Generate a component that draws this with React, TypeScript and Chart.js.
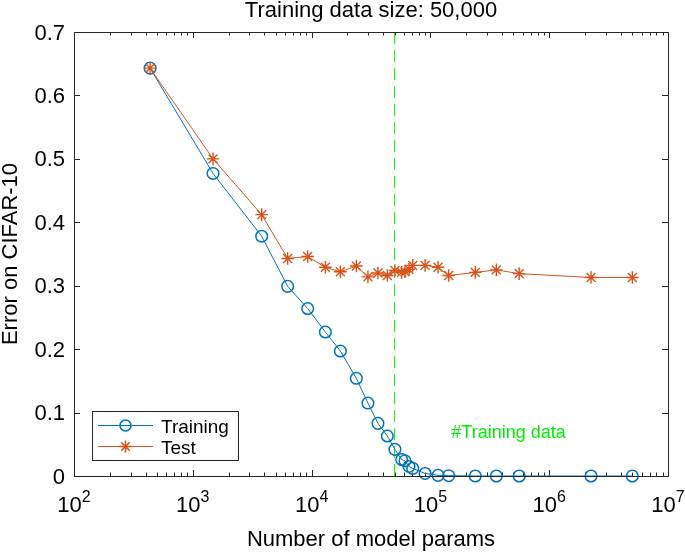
import React, { useEffect, useRef } from 'react';
import { Chart, registerables } from 'chart.js';

Chart.register(...registerables);

// ---- data ----
const modelParams = [437, 1480, 3800, 6290, 9270, 13060, 17460, 23800, 29800, 36200, 43400, 50300, 57300, 61100, 66100, 71000, 90200, 116000, 142600, 238700, 359000, 559000, 2250000, 5010000];
const trainingError = [0.643, 0.477, 0.378, 0.299, 0.264, 0.227, 0.197, 0.154, 0.115, 0.083, 0.063, 0.042, 0.026, 0.024, 0.015, 0.012, 0.004, 0.001, 0.0005, 0, 0, 0, 0, 0];
const testError = [0.643, 0.5, 0.412, 0.343, 0.346, 0.329, 0.322, 0.331, 0.314, 0.32, 0.316, 0.324, 0.321, 0.322, 0.326, 0.332, 0.332, 0.329, 0.316, 0.321, 0.325, 0.319, 0.313, 0.313];
const trainingDataSize = 50000;
const xTickExponents = [2, 3, 4, 5, 6, 7];
const yTickValues = [0, 0.1, 0.2, 0.3, 0.4, 0.5, 0.6, 0.7];
const yTickLabels = ['0', '0.1', '0.2', '0.3', '0.4', '0.5', '0.6', '0.7'];
const seriesNames = ['Training', 'Test'];
const titleText = 'Training data size: 50,000';
const xAxisLabel = 'Number of model params';
const yAxisLabel = 'Error on CIFAR-10';
const annotationText = '#Training data';
const annotationPos = { x: 150000, y: 0.06 };

const BLUE = '#0072BD';
const ORANGE = '#D95319';
const GREEN = '#00ee00';
const AXIS = '#262626';
const TEXT = '#000000';
const FONT = '"Liberation Sans", Arial, Helvetica, sans-serif';

function f(size: number) {
  return `${size}px ${FONT}`;
}

function drawStar(ctx: CanvasRenderingContext2D, x: number, y: number, r: number) {
  const d = r * Math.SQRT1_2;
  ctx.beginPath();
  ctx.moveTo(x - r, y); ctx.lineTo(x + r, y);
  ctx.moveTo(x, y - r); ctx.lineTo(x, y + r);
  ctx.moveTo(x - d, y - d); ctx.lineTo(x + d, y + d);
  ctx.moveTo(x - d, y + d); ctx.lineTo(x + d, y - d);
  ctx.stroke();
}

const matlabPlugin = {
  id: 'matlabAxes',
  beforeDatasetsDraw(chart: any) {
    const { ctx, chartArea, scales } = chart;
    const xs = scales.x;
    const ys = scales.y;
    const L = chartArea.left, R = chartArea.right, T = chartArea.top, B = chartArea.bottom;
    const crisp = (v: number) => Math.round(v) + 0.5;
    ctx.save();
    ctx.strokeStyle = AXIS;
    ctx.lineWidth = 1;
    ctx.beginPath();
    for (let i = 0; i < xTickExponents.length; i++) {
      const e = xTickExponents[i];
      const px = crisp(xs.getPixelForValue(Math.pow(10, e)));
      ctx.moveTo(px, B); ctx.lineTo(px, B - 6);
      ctx.moveTo(px, T); ctx.lineTo(px, T + 6);
      if (i < xTickExponents.length - 1) {
        for (let m = 2; m <= 9; m++) {
          const mx = crisp(xs.getPixelForValue(m * Math.pow(10, e)));
          ctx.moveTo(mx, B); ctx.lineTo(mx, B - 3.5);
          ctx.moveTo(mx, T); ctx.lineTo(mx, T + 3.5);
        }
      }
    }
    for (const v of yTickValues) {
      const py = crisp(ys.getPixelForValue(v));
      ctx.moveTo(L, py); ctx.lineTo(L + 6, py);
      ctx.moveTo(R, py); ctx.lineTo(R - 6, py);
    }
    ctx.stroke();
    ctx.restore();
  },
  afterDatasetsDraw(chart: any) {
    const { ctx, chartArea, scales } = chart;
    const xs = scales.x;
    const ys = scales.y;
    const L = chartArea.left, R = chartArea.right, T = chartArea.top, B = chartArea.bottom;
    ctx.save();
    ctx.strokeStyle = AXIS;
    ctx.lineWidth = 1;
    ctx.strokeRect(Math.round(L) + 0.5, Math.round(T) + 0.5, Math.round(R - L), Math.round(B - T));

    ctx.fillStyle = TEXT;
    ctx.font = f(22);
    ctx.textAlign = 'right';
    ctx.textBaseline = 'alphabetic';
    yTickValues.forEach((v, i) => {
      const py = ys.getPixelForValue(v);
      ctx.fillText(yTickLabels[i], L - 9, py + 7.5);
    });
    ctx.textAlign = 'left';
    for (const e of xTickExponents) {
      const px = xs.getPixelForValue(Math.pow(10, e));
      ctx.font = f(22);
      const wb = ctx.measureText('10').width;
      ctx.font = f(16);
      const sup = String(e);
      const ws = ctx.measureText(sup).width;
      const sx = px - (wb + ws) / 2;
      ctx.font = f(22);
      ctx.fillText('10', sx, B + 35.5);
      ctx.font = f(16);
      ctx.fillText(sup, sx + wb, B + 26);
    }
    ctx.font = f(22);
    ctx.textAlign = 'center';
    ctx.fillText(titleText, (L + R) / 2, T - 15);
    ctx.fillText(xAxisLabel, (L + R) / 2, B + 70);
    ctx.save();
    ctx.translate(17, (T + B) / 2);
    ctx.rotate(-Math.PI / 2);
    ctx.fillText(yAxisLabel, 0, 0);
    ctx.restore();

    ctx.fillStyle = GREEN;
    ctx.font = f(18);
    ctx.textAlign = 'left';
    ctx.fillText(annotationText, xs.getPixelForValue(annotationPos.x), ys.getPixelForValue(annotationPos.y));

    const lx = L + 18, ly = B - 65, lw = 146, lh = 49;
    ctx.fillStyle = '#ffffff';
    ctx.fillRect(lx, ly, lw, lh);
    ctx.strokeStyle = AXIS;
    ctx.lineWidth = 1;
    ctx.strokeRect(Math.round(lx) + 0.5, Math.round(ly) + 0.5, lw, lh);
    const rows = [
      { name: seriesNames[0], color: BLUE, y: ly + 14.5, marker: 'circle' },
      { name: seriesNames[1], color: ORANGE, y: ly + 35.5, marker: 'star' },
    ];
    for (const r of rows) {
      ctx.strokeStyle = r.color;
      ctx.lineWidth = 1;
      ctx.beginPath();
      ctx.moveTo(lx + 6, r.y);
      ctx.lineTo(lx + 61, r.y);
      ctx.stroke();
      ctx.lineWidth = 1.5;
      if (r.marker === 'circle') {
        ctx.beginPath();
        ctx.arc(lx + 33.5, r.y, 5.5, 0, Math.PI * 2);
        ctx.stroke();
      } else {
        drawStar(ctx, lx + 33.5, r.y, 6);
      }
      ctx.fillStyle = TEXT;
      ctx.font = f(19);
      ctx.textAlign = 'left';
      ctx.fillText(r.name, lx + 69, r.y + 7);
    }
    ctx.restore();
  },
};

export default function App() {
  const ref = useRef<HTMLCanvasElement>(null);
  useEffect(() => {
    if (!ref.current) return;
    const trainingPts = modelParams.map((x, i) => ({ x, y: trainingError[i] }));
    const testPts = modelParams.map((x, i) => ({ x, y: testError[i] }));
    const chart = new Chart(ref.current, {
      type: 'scatter',
      data: {
        datasets: [
          {
            label: seriesNames[0],
            data: trainingPts,
            showLine: true,
            borderColor: BLUE,
            borderWidth: 1,
            pointStyle: 'circle',
            pointRadius: 5.8,
            pointBorderWidth: 1.5,
            pointBorderColor: BLUE,
            pointBackgroundColor: 'rgba(0,0,0,0)',
            clip: false,
            order: 1,
          } as any,
          {
            label: seriesNames[1],
            data: testPts,
            showLine: true,
            borderColor: ORANGE,
            borderWidth: 1,
            pointStyle: 'star',
            pointRadius: 6.3,
            pointBorderWidth: 1.4,
            pointBorderColor: ORANGE,
            pointBackgroundColor: ORANGE,
            clip: false,
            order: 0,
          } as any,
          {
            label: 'training size',
            data: [{ x: trainingDataSize, y: 0 }, { x: trainingDataSize, y: 0.7 }],
            showLine: true,
            borderColor: GREEN,
            borderWidth: 1,
            borderDash: [12, 6],
            pointRadius: 0,
            order: 2,
          } as any,
        ],
      },
      options: {
        responsive: false,
        animation: false,
        devicePixelRatio: 1,
        events: [],
        layout: { padding: { left: 74, right: 17, top: 32, bottom: 77 } },
        scales: {
          x: { type: 'logarithmic', min: 100, max: 10000000, display: false },
          y: { type: 'linear', min: 0, max: 0.7, display: false },
        },
        plugins: {
          legend: { display: false },
          tooltip: { enabled: false },
          title: { display: false },
        },
      },
      plugins: [matlabPlugin],
    });
    return () => chart.destroy();
  }, []);
  return (
    <div style={{ position: 'absolute', left: 0, top: 0, width: 685, height: 553, background: '#ffffff' }}>
      <canvas ref={ref} width={685} height={553} style={{ display: 'block', width: 685, height: 553 }} />
    </div>
  );
}
